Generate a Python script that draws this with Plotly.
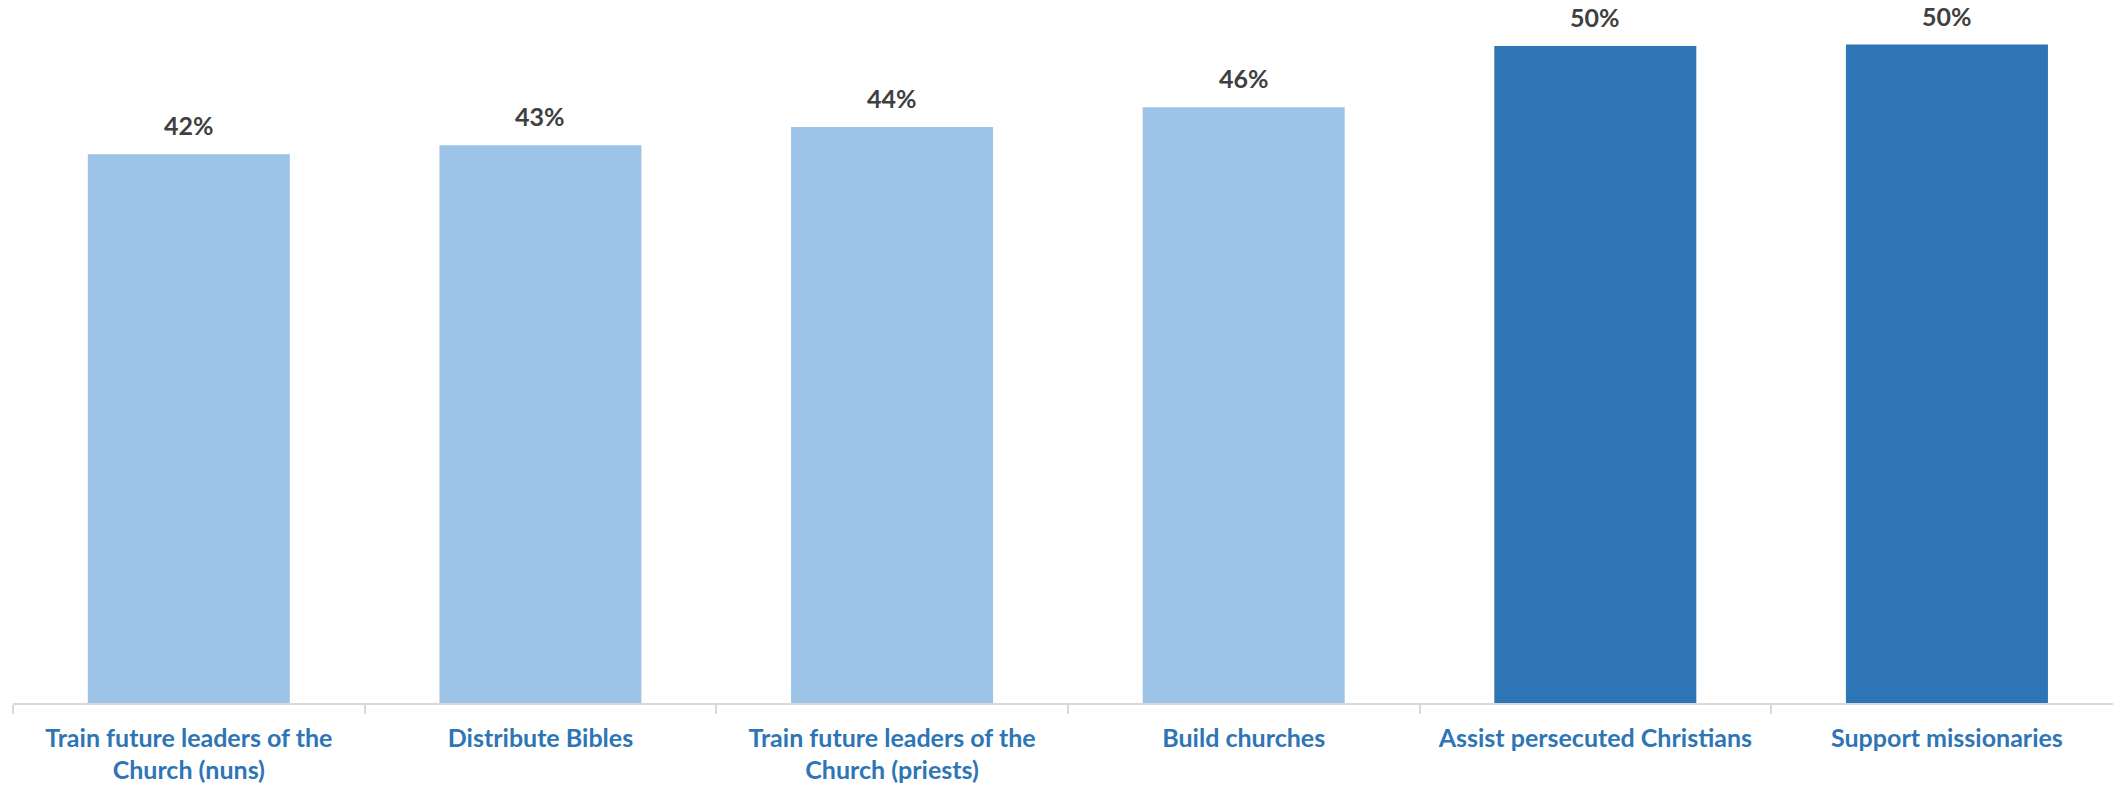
import plotly.graph_objects as go

categories = [
    "Train future leaders of the<br>Church (nuns)",
    "Distribute Bibles",
    "Train future leaders of the<br>Church (priests)",
    "Build churches",
    "Assist persecuted Christians",
    "Support missionaries",
]
values = [42.0, 42.7, 44.1, 45.6, 50.3, 50.4]
highlighted = [False, False, False, False, True, True]

LIGHT = "#9DC3E6"
DARK = "#2E75B6"
bar_colors = [DARK if h else LIGHT for h in highlighted]
FONT = "Lato"

fig = go.Figure(
    go.Bar(
        x=categories,
        y=values,
        marker=dict(color=bar_colors, line=dict(width=0)),
        hoverinfo="skip",
    )
)

for c, v in zip(categories, values):
    fig.add_annotation(
        x=c, y=v, text=f"{v:.0f}%", showarrow=False,
        yanchor="bottom", yshift=12,
        font=dict(family=FONT, size=25, color="#404040", weight="bold"),
    )

fig.update_layout(
    width=2121, height=786,
    margin=dict(l=5, r=8, t=0, b=91, autoexpand=False),
    paper_bgcolor="white", plot_bgcolor="white",
    bargap=0.4255,
    showlegend=False,
    xaxis=dict(
        range=[-0.5, 5.495],
        automargin=False,
        showline=True, linecolor="#D9D9D9", linewidth=1.5,
        ticks="outside", tickson="boundaries", ticklen=9, tickcolor="#D9D9D9", tickwidth=1.5,
        tickfont=dict(family=FONT, size=25, color="#2E75B6", weight="bold"),
        showgrid=False, zeroline=False,
        ticklabelstandoff=12,
    ),
    yaxis=dict(range=[0, 53.2], visible=False, showgrid=False, zeroline=False, automargin=False),
)

fig.write_html("out.html")
